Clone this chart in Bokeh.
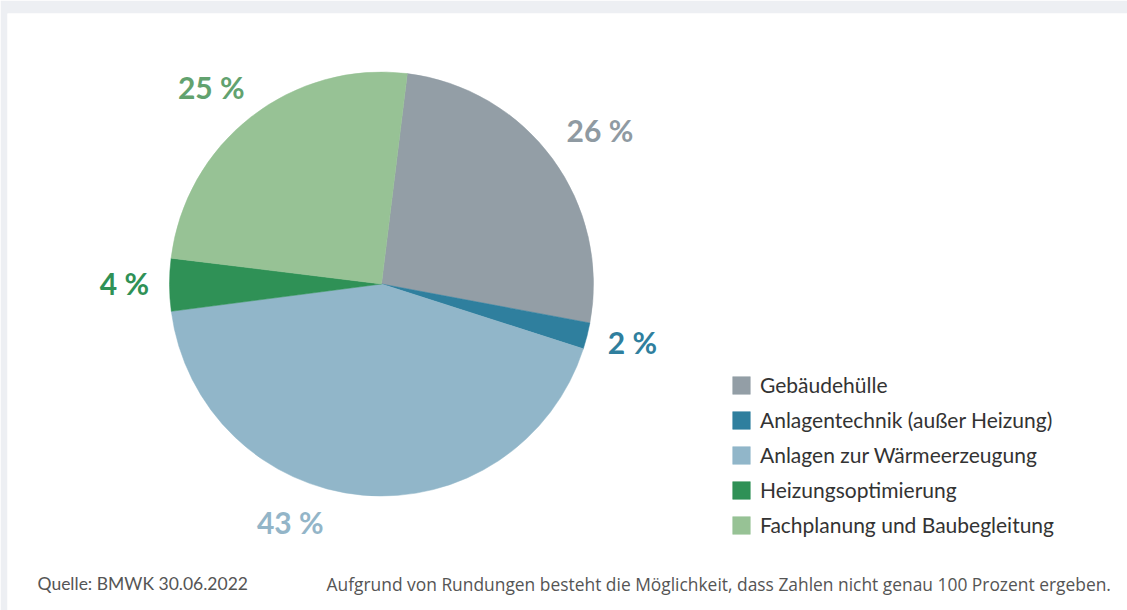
import math
from bokeh.plotting import figure
from bokeh.models import ColumnDataSource, Legend, LegendItem, Label, Range1d
from bokeh.embed import file_html
from bokeh.resources import INLINE
from bokeh.core.properties import value

# ---- data ----
categories = ["Gebäudehülle", "Anlagentechnik (außer Heizung)", "Anlagen zur Wärmeerzeugung",
              "Heizungsoptimierung", "Fachplanung und Baubegleitung"]
shares = [26, 2, 43, 4, 25]
label_texts = ["26 %", "2 %", "43 %", "4 %", "25 %"]
source_note = "Quelle: BMWK 30.06.2022"
rounding_note = "Aufgrund von Rundungen besteht die Möglichkeit, dass Zahlen nicht genau 100 Prozent ergeben."

# ---- styles / layout ----
colors = ["#939ea6", "#2f7f9e", "#91b6c9", "#2f9156", "#97c295"]
label_colors = ["#8f9aa2", "#2f7f9e", "#93b5c8", "#2f9156", "#62a26f"]
label_nudge_deg = [1.4, -0.8, 15.6, 0.0, -3.1]
label_radius = [266, 258, 257, 257, 259]
LABEL_DY = 2

W, H = 1127, 610
LEFT, TOP = 7, 13          # grey page strip
CX, CY, R = 381, H - 283.5, 212
START_CW = 7.0  # degrees clockwise from 12 o'clock

total = sum(shares)
starts, ends, lx, ly = [], [], [], []
cum = 0.0
for i, v in enumerate(shares):
    a0 = START_CW + cum / total * 360.0
    a1 = START_CW + (cum + v) / total * 360.0
    starts.append(math.radians(90 - a0))
    ends.append(math.radians(90 - a1))
    mid = math.radians((a0 + a1) / 2 + label_nudge_deg[i])
    lx.append(CX + label_radius[i] * math.sin(mid))
    ly.append(CY + label_radius[i] * math.cos(mid) + LABEL_DY)
    cum += v

src = ColumnDataSource(dict(cat=categories, start=starts, end=ends, color=colors,
                            x=[CX] * len(shares), y=[CY] * len(shares)))
lsrc = ColumnDataSource(dict(x=lx, y=ly, text=label_texts, color=label_colors))

p = figure(width=W, height=H, output_backend="svg", toolbar_location=None,
           x_range=Range1d(LEFT, W), y_range=Range1d(0, H - TOP),
           min_border=0, min_border_left=LEFT, min_border_right=0,
           min_border_top=TOP, min_border_bottom=0,
           x_axis_type=None, y_axis_type=None)
p.grid.visible = False
p.outline_line_color = None
p.background_fill_color = "white"
p.border_fill_color = "#edeff3"

wr = p.wedge(x="x", y="y", radius=R, start_angle="start", end_angle="end",
             direction="clock", fill_color="color", line_color="color", line_width=0.5,
             source=src)

p.text(x="x", y="y", text="text", text_color="color", source=lsrc,
       text_font=value("Lato"), text_font_style="bold", text_font_size="30px",
       text_align="center", text_baseline="middle")

items = [LegendItem(label=c, renderers=[wr], index=i) for i, c in enumerate(categories)]
legend = Legend(items=items, location=(723, H - 537.4), orientation="vertical",
                glyph_width=22, glyph_height=22, label_height=22, spacing=10,
                label_standoff=8, padding=0, margin=0,
                border_line_color=None, background_fill_alpha=0,
                label_text_font="Lato", label_text_font_size="21px",
                label_text_color="#333333")
p.add_layout(legend, "center")

p.add_layout(Label(x=37, y=H - 583, text=source_note, text_font="Lato", text_font_size="17.5px",
                   text_color="#555555", text_baseline="middle"))
p.add_layout(Label(x=326, y=H - 583, text=rounding_note, text_font="Open Sans", text_font_size="17.4px",
                   text_color="#555555", text_baseline="middle"))

open("out.html", "w").write(file_html(p, INLINE))
